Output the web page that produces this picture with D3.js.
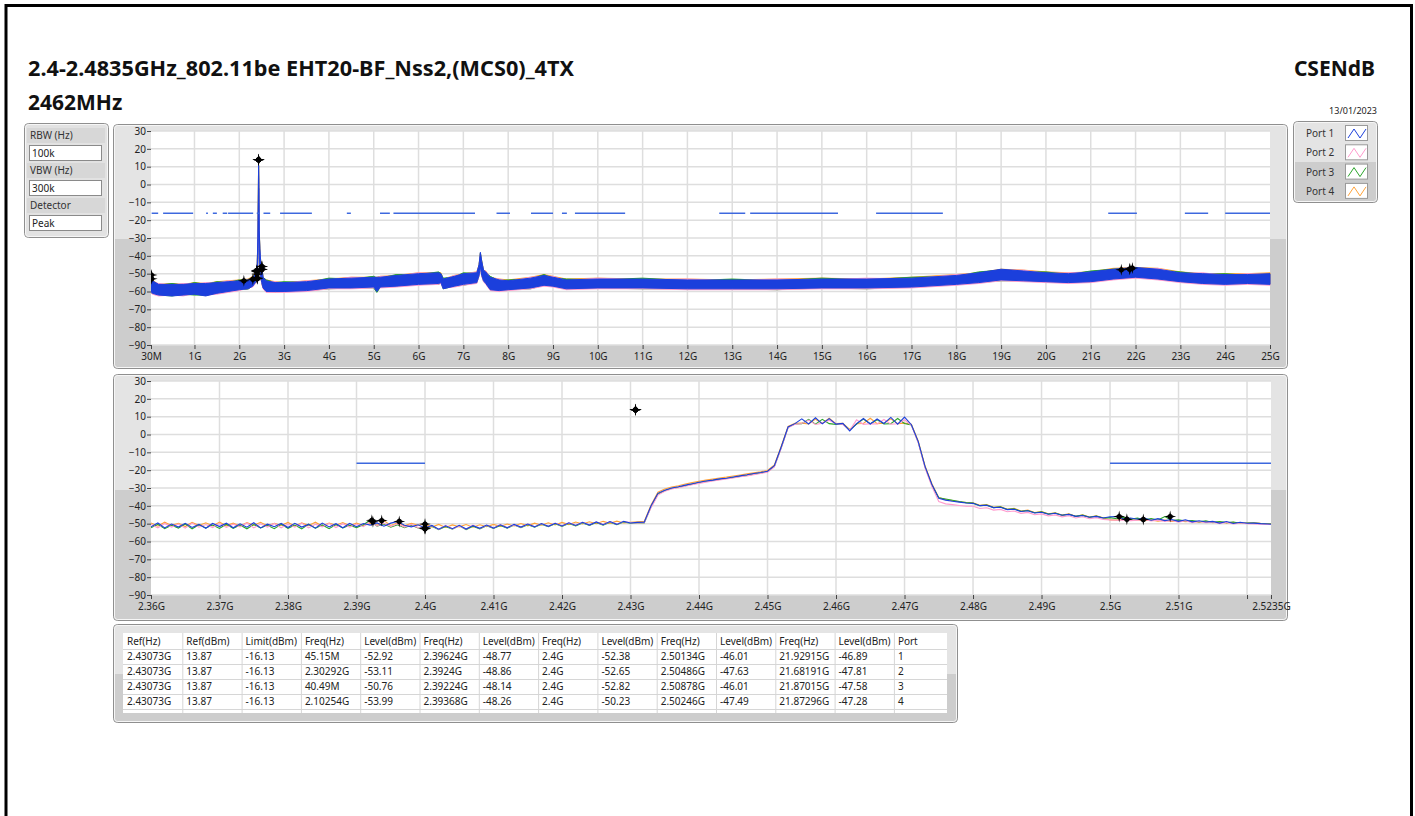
<!DOCTYPE html>
<html><head><meta charset="utf-8">
<script src="https://cdn.jsdelivr.net/npm/d3@7"></script>
<style>
html,body{margin:0;padding:0;background:#fff;}
svg{display:block;font-family:"Noto Sans","Open Sans",sans-serif;}
</style></head><body>
<svg id="c" width="1415" height="816"></svg>
<script>
// ---------------- DATA ----------------
const titleLine1 = "2.4-2.4835GHz_802.11be EHT20-BF_Nss2,(MCS0)_4TX";
const titleLine2 = "2462MHz";
const testName = "CSENdB";
const testDate = "13/01/2023";
const settingLabels = ["RBW (Hz)", "VBW (Hz)", "Detector"];
const settingValues = ["100k", "300k", "Peak"];
const portNames = ["Port 1", "Port 2", "Port 3", "Port 4"];
const portColors = ["#1b3fdc", "#ff9cce", "#2aa52a", "#ffa238"];

const levelTicks = [30, 20, 10, 0, -10, -20, -30, -40, -50, -60, -70, -80, -90];
const topTickValues = [0.03,1,2,3,4,5,6,7,8,9,10,11,12,13,14,15,16,17,18,19,20,21,22,23,24,25];
const topTickLabels = ["30M","1G","2G","3G","4G","5G","6G","7G","8G","9G","10G","11G","12G","13G","14G","15G","16G","17G","18G","19G","20G","21G","22G","23G","24G","25G"];
const bottomTickValues = [2.36,2.37,2.38,2.39,2.40,2.41,2.42,2.43,2.44,2.45,2.46,2.47,2.48,2.49,2.50,2.51,2.52,2.5235];
const bottomTickLabels = ["2.36G","2.37G","2.38G","2.39G","2.4G","2.41G","2.42G","2.43G","2.44G","2.45G","2.46G","2.47G","2.48G","2.49G","2.5G","2.51G","","2.5235G"];

// limit line (dBm) drawn over these frequency spans (GHz)
const limitDbm = -16.13;
const topLimitSpansGHz = [[0.045,0.19],[0.30,0.97],[1.26,1.30],[1.41,1.50],[1.63,1.73],[1.75,2.31],[2.39,2.45],[2.54,2.69],[2.91,3.62],[4.40,4.49],[5.14,5.36],[5.44,7.26],[7.74,8.04],[8.51,9.0],[9.2,9.31],[9.49,10.61],[12.71,13.29],[13.40,15.36],[16.21,17.70],[21.39,22.03],[23.10,23.62],[24.0,25.0]];
const bottomLimitSpansGHz = [[2.39,2.40],[2.50,2.5235]];

// Top sweep (30 MHz - 25 GHz): [freq GHz, min dBm, max dBm] of the peak trace per port
const topPort1 = [[0.03,-60,-50.5],[0.06,-61,-54],[0.2,-62,-56],[0.5,-62.5,-56],[0.75,-62,-56],[1.0,-61.5,-55.5],[1.25,-62.5,-55.5],[1.5,-61,-55],[1.75,-60,-54.5],[2.0,-59,-54],[2.2,-58.5,-53.5],[2.3,-57,-52.5],[2.36,-55,-50],[2.40,-52,-45],[2.415,-42,-30],[2.425,-25,-5],[2.4307,-2,11],[2.437,-20,2],[2.445,-38,-26],[2.46,-48,-36],[2.48,-52,-44],[2.50,-55,-46],[2.53,-58,-52],[2.6,-60,-54],[2.8,-60,-55],[3.0,-60,-55],[3.5,-59.5,-54.5],[4.0,-58,-53],[4.5,-58,-52.5],[5.0,-57.5,-52],[5.07,-60,-52],[5.15,-57.5,-52],[5.5,-57,-51],[6.0,-56,-50],[6.45,-55.5,-49.5],[6.5,-55,-50],[6.55,-58.5,-53],[6.8,-57,-51.5],[7.0,-56,-50],[7.3,-55,-49.5],[7.35,-51,-45],[7.38,-46,-38],[7.41,-51,-43],[7.45,-54,-48],[7.5,-55.5,-49],[7.6,-59,-52],[7.8,-59.5,-53.5],[8.0,-59,-54],[8.5,-58,-52.5],[8.8,-56.5,-51],[9.0,-57,-52],[9.3,-58.5,-53.5],[10,-58,-53],[11,-58,-53],[12,-58.5,-53.5],[13,-58.5,-53.5],[14,-58.5,-53.5],[15,-58,-53],[16,-58,-53],[17,-57.5,-52.5],[18,-56,-51],[18.5,-55,-49.5],[19,-53.5,-47.5],[19.5,-54,-48.5],[20,-54.5,-49.5],[20.5,-55,-50],[21,-54.5,-49],[21.5,-53,-47.5],[22,-52,-46.5],[22.5,-53,-47.5],[23,-54.5,-49.5],[23.5,-55.5,-50],[24,-56,-50.5],[24.5,-55.5,-50.5],[25,-56,-50]];
const topPort2 = [[0.03,-60.5,-51],[0.06,-61.5,-54.5],[0.2,-62.5,-55.5],[0.5,-62,-56.5],[0.75,-62.5,-55.5],[1.0,-61,-56],[1.25,-62,-55],[1.5,-61.5,-55.5],[1.75,-60.5,-54],[2.0,-59.5,-54.5],[2.2,-58,-53.5],[2.3,-57.5,-53],[2.36,-55.5,-49.5],[2.40,-52.5,-45.5],[2.415,-42.5,-31],[2.425,-26,-6],[2.4307,-3,10.5],[2.437,-21,1],[2.445,-39,-27],[2.46,-48.5,-37],[2.48,-52.5,-44.5],[2.50,-55.5,-47],[2.53,-58.5,-52.5],[2.6,-60.5,-54.5],[2.8,-60.5,-54.5],[3.0,-60.5,-55.5],[3.5,-60,-54],[4.0,-58.5,-53.5],[4.5,-58.5,-52],[5.0,-58,-52.5],[5.07,-59.5,-52.5],[5.15,-58,-51.5],[5.5,-57.5,-51.5],[6.0,-56.5,-49.5],[6.45,-56,-50],[6.5,-55.5,-50.5],[6.55,-58,-53.5],[6.8,-57.5,-51],[7.0,-56.5,-50.5],[7.3,-55.5,-49],[7.35,-51.5,-45.5],[7.38,-46.5,-39],[7.41,-51.5,-43.5],[7.45,-54.5,-48.5],[7.5,-56,-48.5],[7.6,-59.5,-52.5],[7.8,-60,-53],[8.0,-59.5,-54.5],[8.5,-58.5,-52],[8.8,-57,-51.5],[9.0,-57.5,-51.5],[9.3,-59,-54],[10,-58.5,-52.5],[11,-58.5,-53.5],[12,-59,-53],[13,-59,-54],[14,-59,-53],[15,-58.5,-53.5],[16,-58.5,-52.5],[17,-58,-53],[18,-56.5,-50.5],[18.5,-55.5,-50],[19,-54,-48],[19.5,-54.5,-48],[20,-55,-50],[20.5,-55.5,-49.5],[21,-55,-49.5],[21.5,-53.5,-48],[22,-52.5,-47.5],[22.5,-53.5,-47],[23,-55,-50],[23.5,-56,-49.5],[24,-56.5,-51],[24.5,-56,-50],[25,-56.5,-50.5]];
const topPort3 = [[0.03,-61,-51.5],[0.06,-61,-54],[0.2,-62,-56.5],[0.5,-62.5,-55.5],[0.75,-61.5,-56.5],[1.0,-62,-55],[1.25,-62,-56],[1.5,-60.5,-54.5],[1.75,-60,-55],[2.0,-59,-53.5],[2.2,-58.5,-53.5],[2.3,-56.5,-52],[2.36,-55,-49.5],[2.40,-52,-45.5],[2.415,-42,-30.5],[2.425,-25.5,-5.5],[2.4307,-2.5,10.5],[2.437,-20.5,1.5],[2.445,-38.5,-26.5],[2.46,-48,-36.5],[2.48,-52,-44],[2.50,-55,-46.5],[2.53,-58,-52],[2.6,-60,-53.5],[2.8,-60.5,-55],[3.0,-60,-54.5],[3.5,-59.5,-55],[4.0,-58.5,-52.5],[4.5,-58,-53],[5.0,-58,-51.5],[5.07,-60.5,-52.5],[5.15,-57.5,-52.5],[5.5,-57,-50.5],[6.0,-56,-50.5],[6.45,-56,-49],[6.5,-55,-50],[6.55,-58.5,-52.5],[6.8,-57,-52],[7.0,-56.5,-49.5],[7.3,-55,-50],[7.35,-51,-45.5],[7.38,-46,-38.5],[7.41,-51,-43],[7.45,-54,-48.5],[7.5,-55.5,-49.5],[7.6,-59,-51.5],[7.8,-59.5,-54],[8.0,-59,-53.5],[8.5,-58.5,-53],[8.8,-56.5,-50.5],[9.0,-57,-52.5],[9.3,-58.5,-53],[10,-58,-53.5],[11,-58.5,-52.5],[12,-58.5,-54],[13,-58.5,-53],[14,-59,-54],[15,-58,-52.5],[16,-58.5,-53.5],[17,-57.5,-52],[18,-56,-51.5],[18.5,-55,-49],[19,-54,-48],[19.5,-54,-49],[20,-54.5,-49],[20.5,-55,-50.5],[21,-54.5,-48.5],[21.5,-53,-47.5],[22,-52,-47],[22.5,-53,-48],[23,-54.5,-49],[23.5,-55.5,-50.5],[24,-56,-50],[24.5,-55.5,-51],[25,-56,-50.5]];
const topPort4 = [[0.03,-60,-51],[0.06,-61,-53.5],[0.2,-61.5,-56],[0.5,-62,-55.5],[0.75,-62,-56],[1.0,-61.5,-55],[1.25,-62,-55.5],[1.5,-61,-54.5],[1.75,-60,-54],[2.0,-59,-53.5],[2.2,-58.5,-53],[2.3,-57,-51.5],[2.36,-55,-49],[2.40,-52,-45],[2.415,-42,-30],[2.425,-25,-5],[2.4307,-2,10.5],[2.437,-20,2],[2.445,-38,-26],[2.46,-48,-36],[2.48,-52,-44],[2.50,-55,-46],[2.53,-58,-52],[2.6,-60,-53.5],[2.8,-60,-54.5],[3.0,-60,-55],[3.5,-59.5,-54],[4.0,-58,-53],[4.5,-58,-52],[5.0,-57.5,-52],[5.07,-59,-52],[5.15,-57.5,-51.5],[5.5,-57,-51],[6.0,-56,-49.5],[6.45,-55.5,-49.5],[6.5,-55,-49.5],[6.55,-58,-53],[6.8,-57,-51],[7.0,-56,-50],[7.3,-55,-49],[7.35,-51,-45],[7.38,-46,-38.5],[7.41,-51,-43],[7.45,-54,-48],[7.5,-55.5,-48.5],[7.6,-59,-52],[7.8,-59.5,-53],[8.0,-59,-53.5],[8.5,-58,-52],[8.8,-56.5,-50.5],[9.0,-57,-51.5],[9.3,-58.5,-53],[10,-58,-52.5],[11,-58,-53],[12,-58.5,-53],[13,-58.5,-53.5],[14,-58.5,-53],[15,-58,-52.5],[16,-58,-53],[17,-57.5,-52],[18,-56,-50.5],[18.5,-55,-49.5],[19,-53.5,-47.5],[19.5,-54,-48],[20,-54.5,-49],[20.5,-55,-49.5],[21,-54.5,-49],[21.5,-53,-47],[22,-52,-46.5],[22.5,-53,-47],[23,-54.5,-49],[23.5,-55.5,-50],[24,-56,-50],[24.5,-55.5,-50],[25,-56,-49.5]];

// Bottom sweep: 2360 MHz .. 2523 MHz every 1 MHz, then 2523.5 MHz (dBm per port)
const bottomStartMHz = 2360, bottomStepMHz = 1, bottomStopMHz = 2523.5;
const bottomPort1 = [
-51.8,-49.6,-52.4,-50.2,-51.9,-49.8,-52.1,-50.4,-52.6,-49.9,
-51.6,-49.7,-52.3,-50.1,-52.0,-49.5,-52.4,-50.3,-51.7,-49.9,
-52.2,-49.8,-51.9,-50.4,-52.5,-49.7,-51.8,-50.0,-52.3,-49.9,
-51.7,-49.9,-50.8,-49.6,-51.4,-49.7,-48.8,-50.9,-51.8,-50.6,
-52.4,-51.0,-53.1,-51.2,-52.8,-50.9,-53.0,-51.1,-52.6,-50.8,
-52.5,-50.6,-52.3,-50.4,-51.9,-50.2,-51.8,-49.9,-51.5,-49.8,
-51.3,-49.5,-51.0,-49.2,-50.8,-49.0,-50.6,-48.8,-50.4,-48.7,
-49.6,-49.3,-49.2,-40.0,-33.0,-31.2,-30.0,-29.3,-28.4,-27.6,
-26.8,-26.1,-25.6,-24.9,-24.5,-23.8,-23.2,-22.6,-21.9,-21.3,
-20.6,-17.5,-7.0,4.2,6.1,8.8,5.9,9.4,6.0,8.9,
5.8,6.2,2.0,6.1,9.0,5.9,8.7,6.2,9.6,5.8,
9.8,5.5,-4.0,-18.0,-28.0,-35.8,-36.8,-37.4,-37.9,-38.4,
-38.6,-39.9,-39.7,-41.0,-40.8,-42.1,-41.9,-43.2,-42.8,-44.0,
-43.6,-44.7,-44.2,-45.3,-44.8,-45.9,-45.4,-46.4,-45.9,-46.8,
-46.1,-46.0,-47.4,-46.8,-47.5,-46.9,-48.1,-47.2,-48.3,-47.7,
-48.7,-47.8,-49.0,-48.4,-49.1,-48.7,-49.7,-48.8,-49.9,-49.2,
-49.8,-49.7,-50.0,-50.2,
-50.3];
const bottomPort2 = [
-50.4,-52.3,-49.9,-51.9,-50.2,-52.5,-49.7,-52.0,-50.5,-52.2,
-49.8,-52.1,-50.3,-51.8,-49.6,-52.4,-50.1,-51.9,-49.9,-52.3,
-50.2,-52.0,-49.7,-52.4,-50.3,-51.8,-49.8,-52.2,-50.0,-51.9,
-50.2,-51.7,-48.9,-51.3,-49.8,-51.5,-50.1,-51.9,-50.4,-52.2,
-52.6,-51.1,-53.2,-50.9,-52.9,-51.3,-53.0,-50.8,-52.7,-51.0,
-52.4,-50.5,-52.2,-50.7,-51.9,-50.3,-51.7,-50.1,-51.4,-49.7,
-51.2,-49.6,-50.9,-49.3,-50.7,-49.1,-50.5,-48.9,-50.3,-48.8,
-49.4,-49.6,-49.4,-41.0,-34.0,-31.8,-30.6,-29.9,-29.0,-28.2,
-27.4,-26.7,-26.1,-25.5,-24.9,-24.4,-23.7,-23.2,-22.5,-21.9,
-21.1,-18.2,-7.8,3.8,5.7,6.2,8.1,5.6,6.3,8.0,
6.0,5.6,2.4,8.2,5.7,6.1,5.9,8.4,5.8,6.0,
8.3,5.2,-4.6,-18.8,-29.2,-37.6,-38.9,-39.3,-39.8,-40.2,
-40.2,-41.5,-41.1,-42.4,-42.0,-43.3,-42.9,-44.2,-43.7,-45.0,
-44.5,-45.6,-45.1,-46.2,-45.6,-46.8,-46.1,-47.2,-46.6,-47.6,
-47.9,-48.1,-47.9,-48.3,-48.0,-47.6,-48.5,-48.0,-48.7,-48.2,
-49.1,-48.3,-49.4,-48.8,-49.5,-49.0,-50.0,-49.2,-50.2,-49.6,
-50.0,-50.1,-50.3,-50.4,
-50.5];
const bottomPort3 = [
-52.3,-50.4,-52.8,-50.9,-52.5,-50.2,-52.9,-50.6,-52.4,-50.8,
-52.7,-50.3,-52.6,-50.7,-52.9,-50.5,-52.4,-50.9,-52.8,-50.4,
-52.6,-50.8,-52.9,-50.3,-52.5,-50.7,-52.8,-50.5,-52.4,-50.9,
-52.2,-50.6,-48.1,-51.4,-50.2,-52.0,-50.6,-52.3,-50.9,-52.4,
-52.8,-51.4,-53.4,-51.6,-53.1,-51.2,-53.3,-51.5,-52.9,-51.1,
-52.7,-51.0,-52.5,-50.8,-52.2,-50.6,-52.0,-50.3,-51.7,-50.1,
-51.5,-49.9,-51.2,-49.6,-51.0,-49.4,-50.8,-49.2,-50.6,-49.1,
-49.8,-49.5,-49.6,-40.6,-33.4,-31.5,-30.3,-29.6,-28.7,-27.9,
-27.1,-26.4,-25.8,-25.2,-24.7,-24.1,-23.5,-22.9,-22.2,-21.6,
-20.9,-17.9,-7.4,4.0,5.9,6.0,8.4,5.8,8.5,6.1,
5.7,5.9,2.6,5.8,8.6,6.0,8.2,5.9,6.1,9.0,
6.2,5.4,-4.3,-18.3,-28.5,-35.5,-36.2,-36.9,-37.6,-38.2,
-38.5,-39.9,-39.6,-41.0,-40.6,-42.0,-41.7,-43.1,-42.6,-43.9,
-43.4,-44.6,-44.1,-45.3,-44.7,-45.9,-45.2,-46.4,-45.8,-46.8,
-46.6,-47.2,-46.5,-47.6,-46.9,-47.8,-47.1,-48.0,-46.0,-48.2,
-47.9,-48.5,-48.2,-49.0,-48.4,-49.3,-48.8,-49.4,-49.1,-49.8,
-49.7,-49.6,-49.9,-50.1,
-50.2];
const bottomPort4 = [
-49.6,-51.4,-49.2,-51.1,-49.8,-51.6,-49.3,-51.0,-49.5,-51.3,
-49.1,-51.2,-49.7,-51.5,-49.4,-50.9,-49.2,-51.3,-49.8,-51.0,
-49.3,-51.4,-49.6,-51.1,-49.2,-51.5,-49.7,-50.9,-49.4,-51.2,
-49.7,-51.0,-49.9,-50.8,-48.3,-51.0,-49.5,-51.2,-49.8,-50.9,
-50.2,-51.9,-50.4,-52.1,-50.7,-51.8,-50.5,-52.0,-50.6,-51.7,
-50.4,-51.6,-50.2,-51.3,-49.9,-51.2,-49.7,-50.9,-49.5,-50.7,
-49.3,-50.5,-49.1,-50.2,-48.9,-50.0,-48.7,-49.8,-48.6,-49.6,
-49.2,-48.9,-48.7,-39.5,-32.4,-30.6,-29.4,-28.7,-27.8,-27.0,
-26.2,-25.6,-25.0,-24.4,-23.9,-23.3,-22.7,-22.1,-21.5,-20.9,
-20.2,-17.0,-6.6,4.5,6.3,6.4,5.9,8.6,6.2,9.2,
6.1,6.3,2.8,6.0,6.2,9.1,6.0,6.3,8.8,6.1,
6.4,5.7,-3.6,-17.6,-27.6,-35.4,-36.5,-37.1,-37.7,-38.2,
-38.3,-39.7,-39.3,-40.8,-40.4,-41.9,-41.4,-42.9,-42.4,-43.7,
-43.2,-44.5,-43.9,-45.2,-44.5,-45.8,-45.1,-46.3,-45.6,-46.7,
-47.9,-48.0,-47.5,-48.1,-47.8,-48.3,-47.9,-48.6,-48.0,-48.7,
-48.3,-48.9,-48.6,-49.2,-48.8,-49.4,-49.1,-49.6,-49.3,-49.8,
-49.6,-49.5,-49.8,-50.0,
-50.1];

// Result table
const tableHeaders = ["Ref(Hz)","Ref(dBm)","Limit(dBm)","Freq(Hz)","Level(dBm)","Freq(Hz)","Level(dBm)","Freq(Hz)","Level(dBm)","Freq(Hz)","Level(dBm)","Freq(Hz)","Level(dBm)","Port"];
const tableRow1 = ["2.43073G","13.87","-16.13","45.15M","-52.92","2.39624G","-48.77","2.4G","-52.38","2.50134G","-46.01","21.92915G","-46.89","1"];
const tableRow2 = ["2.43073G","13.87","-16.13","2.30292G","-53.11","2.3924G","-48.86","2.4G","-52.65","2.50486G","-47.63","21.68191G","-47.81","2"];
const tableRow3 = ["2.43073G","13.87","-16.13","40.49M","-50.76","2.39224G","-48.14","2.4G","-52.82","2.50878G","-46.01","21.87015G","-47.58","3"];
const tableRow4 = ["2.43073G","13.87","-16.13","2.10254G","-53.99","2.39368G","-48.26","2.4G","-50.23","2.50246G","-47.49","21.87296G","-47.28","4"];
const tableRows = [tableRow1, tableRow2, tableRow3, tableRow4];

// ---------------- DRAWING ----------------
const svg = d3.select('#c');
const defs = svg.append('defs');
const FONT = '"Noto Sans","Open Sans",sans-serif';
let gid = 0;

function panel(x, y, w, h, split, light = '#e4e4e4', dark = '#cdcdcd') {
  const id = 'pg' + (gid++);
  const lg = defs.append('linearGradient').attr('id', id).attr('x1', 0).attr('y1', 0).attr('x2', 0).attr('y2', 1);
  lg.append('stop').attr('offset', 0).attr('stop-color', light);
  lg.append('stop').attr('offset', split).attr('stop-color', light);
  lg.append('stop').attr('offset', split).attr('stop-color', dark);
  lg.append('stop').attr('offset', 1).attr('stop-color', dark);
  svg.append('rect').attr('x', x + 0.5).attr('y', y + 0.5).attr('width', w).attr('height', h)
    .attr('rx', 4).attr('fill', `url(#${id})`).attr('stroke', '#8f8f8f');
  svg.append('rect').attr('x', x + 1.5).attr('y', y + 1.5).attr('width', w - 2).attr('height', h - 2)
    .attr('rx', 3).attr('fill', 'none').attr('stroke', '#f6f6f6');
}

// frame
svg.append('rect').attr('x', 6).attr('y', 5.5).attr('width', 1405.5).attr('height', 900)
  .attr('fill', 'none').attr('stroke', '#000').attr('stroke-width', 3);

// titles
svg.append('text').attr('x', 28).attr('y', 76).attr('font-size', 21).attr('font-weight', 700)
  .attr('textLength', 546).attr('lengthAdjust', 'spacingAndGlyphs').attr('fill', '#111').text(titleLine1);
svg.append('text').attr('x', 28).attr('y', 110).attr('font-size', 21).attr('font-weight', 700)
  .attr('fill', '#111').text(titleLine2);
svg.append('text').attr('x', 1375).attr('y', 76).attr('font-size', 21).attr('font-weight', 700)
  .attr('text-anchor', 'end').attr('fill', '#111').text(testName);
svg.append('text').attr('x', 1377).attr('y', 114).attr('font-size', 9)
  .attr('text-anchor', 'end').attr('fill', '#222').text(testDate);

// settings panel
panel(24, 123, 84, 114, 1, '#e2e2e2', '#e2e2e2');
settingLabels.forEach((lab, i) => {
  const y0 = 128 + i * 35;
  svg.append('rect').attr('x', 27).attr('y', y0).attr('width', 78).attr('height', 15).attr('fill', '#d7d7d7');
  svg.append('text').attr('x', 30).attr('y', y0 + 11).attr('font-size', 10).attr('fill', '#333').text(lab);
  svg.append('rect').attr('x', 29.5).attr('y', y0 + 17.5).attr('width', 72).attr('height', 15)
    .attr('fill', '#fff').attr('stroke', '#8a8a8a');
  svg.append('text').attr('x', 32).attr('y', y0 + 29).attr('font-size', 10).attr('fill', '#222').text(settingValues[i]);
});

// legend panel
panel(1293, 121, 84, 81, 0.5);
portNames.forEach((p, i) => {
  const cy = 133 + i * 19.3;
  svg.append('text').attr('x', 1306).attr('y', cy + 4).attr('font-size', 10).attr('fill', '#333').text(p);
  svg.append('rect').attr('x', 1345.5).attr('y', cy - 7.5).attr('width', 22).attr('height', 15)
    .attr('fill', '#fff').attr('stroke', '#9a9a9a');
  svg.append('path').attr('d', `M${1348},${cy + 5} L${1354},${cy - 4} L${1360},${cy + 5} L${1366},${cy - 4}`)
    .attr('fill', 'none').attr('stroke', portColors[i]).attr('stroke-width', 1);
});

function parseHz(s) {
  const m = s.match(/^([\d.]+)([GM])$/);
  return +m[1] * (m[2] === 'G' ? 1 : 0.001);
}
const markers = [];
tableRows.forEach(r => {
  markers.push([parseHz(r[0]), +r[1]]);
  [3, 5, 7, 9, 11].forEach(c => markers.push([parseHz(r[c]), +r[c + 1]]));
});

function chart(opts) {
  const { px0, px1, py0, py1, domain, tickValues, tickLabels, panelBox } = opts;
  panel(...panelBox, 0.47);
  const x = d3.scaleLinear().domain(domain).range([px0, px1]);
  const y = d3.scaleLinear().domain([-90, 30]).range([py1, py0]);
  const g = svg.append('g');
  g.append('rect').attr('x', px0).attr('y', py0).attr('width', px1 - px0).attr('height', py1 - py0).attr('fill', '#fff');
  const cid = 'clip' + (gid++);
  defs.append('clipPath').attr('id', cid).append('rect')
    .attr('x', px0).attr('y', py0 - 1).attr('width', px1 - px0 + 1).attr('height', py1 - py0 + 2);
  // grid
  g.selectAll('.hg').data(levelTicks).join('line')
    .attr('x1', px0).attr('x2', px1).attr('y1', d => y(d)).attr('y2', d => y(d))
    .attr('stroke', '#dedede').attr('stroke-width', 1.5);
  g.selectAll('.vg').data(tickValues.filter(v => v > domain[0] && v < domain[1])).join('line')
    .attr('y1', py0).attr('y2', py1).attr('x1', d => x(d)).attr('x2', d => x(d))
    .attr('stroke', '#dedede').attr('stroke-width', 1.5);
  // axes
  const ya = g.append('g').attr('transform', `translate(${px0},0)`)
    .call(d3.axisLeft(y).tickValues(levelTicks).tickSize(4).tickPadding(1));
  ya.select('.domain').remove();
  ya.selectAll('text').attr('font-size', 10).attr('font-family', FONT).attr('fill', '#222');
  ya.selectAll('line').attr('stroke', '#444');
  const xa = g.append('g').attr('transform', `translate(0,${py1})`)
    .call(d3.axisBottom(x).tickValues(tickValues).tickFormat((d, i) => tickLabels[i]).tickSize(4).tickPadding(4));
  xa.select('.domain').remove();
  xa.selectAll('text').attr('font-size', 10).attr('font-family', FONT).attr('fill', '#222');
  xa.selectAll('line').attr('stroke', '#444');
  const plot = g.append('g').attr('clip-path', `url(#${cid})`);
  return { x, y, plot };
}

function drawLimit(c, spans) {
  c.plot.selectAll(null).data(spans).join('line')
    .attr('x1', d => c.x(d[0])).attr('x2', d => c.x(d[1]))
    .attr('y1', c.y(limitDbm)).attr('y2', c.y(limitDbm))
    .attr('stroke', '#3d68de').attr('stroke-width', 1.5);
}
function drawMarkers(c, domain) {
  const ms = markers.filter(m => m[0] >= domain[0] && m[0] <= domain[1]);
  const mg = c.plot.selectAll(null).data(ms).join('g')
    .attr('transform', d => `translate(${c.x(d[0])},${c.y(d[1])})`);
  mg.append('path').attr('d', 'M0,-6 L1,-1.2 L6,0 L1,1.2 L0,6 L-1,1.2 L-6,0 L-1,-1.2 Z').attr('fill', '#000');
  mg.append('circle').attr('r', 2.6).attr('fill', '#000');
}

// top chart
const topDomain = [0.03, 25];
const topChart = chart({ px0: 151, px1: 1270, py0: 131, py1: 345, domain: topDomain,
  tickValues: topTickValues, tickLabels: topTickLabels, panelBox: [113, 124, 1174, 244] });
const bandsTop = [topPort4, topPort3, topPort2, topPort1];
const bandColorsTop = [portColors[3], portColors[2], portColors[1], portColors[0]];
bandsTop.forEach((band, i) => {
  const area = d3.area().x(d => topChart.x(d[0])).y0(d => topChart.y(d[1])).y1(d => topChart.y(d[2]));
  topChart.plot.append('path').attr('d', area(band)).attr('fill', bandColorsTop[i])
    .attr('stroke', bandColorsTop[i]).attr('stroke-width', 1);
});
drawLimit(topChart, topLimitSpansGHz);
drawMarkers(topChart, topDomain);

// bottom chart
const botDomain = [2.36, 2.5235];
const botChart = chart({ px0: 151, px1: 1271, py0: 381, py1: 595, domain: botDomain,
  tickValues: bottomTickValues, tickLabels: bottomTickLabels, panelBox: [113, 374, 1174, 246] });
drawLimit(botChart, bottomLimitSpansGHz);
const freqOf = i => i < 164 ? (bottomStartMHz + i * bottomStepMHz) / 1000 : bottomStopMHz / 1000;
const linesBot = [bottomPort4, bottomPort3, bottomPort2, bottomPort1];
const lineColorsBot = [portColors[3], portColors[2], portColors[1], portColors[0]];
linesBot.forEach((vals, k) => {
  const line = d3.line().x((d, i) => botChart.x(freqOf(i))).y(d => botChart.y(d));
  botChart.plot.append('path').attr('d', line(vals)).attr('fill', 'none')
    .attr('stroke', lineColorsBot[k]).attr('stroke-width', 1.1);
});
drawMarkers(botChart, botDomain);

// table
panel(113, 624, 844, 98, 0.5);
const colX = d3.range(15).map(i => i < 14 ? 123 + i * 59.3 : 947);
const tg = svg.append('g');
tg.append('rect').attr('x', 123).attr('y', 633).attr('width', 824).attr('height', 80).attr('fill', '#fff');
const rowLines = [649, 664, 679, 694, 709];
rowLines.forEach(yl => tg.append('line').attr('x1', 123).attr('x2', 947).attr('y1', yl + 0.5).attr('y2', yl + 0.5)
  .attr('stroke', '#d6d6d6'));
colX.slice(1, 14).forEach(xl => tg.append('line').attr('x1', xl + 0.5).attr('x2', xl + 0.5).attr('y1', 633).attr('y2', 713)
  .attr('stroke', '#d6d6d6'));
tableHeaders.forEach((h, i) => tg.append('text').attr('x', colX[i] + 4).attr('y', 645).attr('font-size', 10)
  .attr('fill', '#222').text(h));
tableRows.forEach((r, ri) => r.forEach((v, i) => tg.append('text').attr('x', colX[i] + 4).attr('y', 660 + ri * 15)
  .attr('font-size', 10).attr('fill', '#222').text(v)));
</script></body></html>
